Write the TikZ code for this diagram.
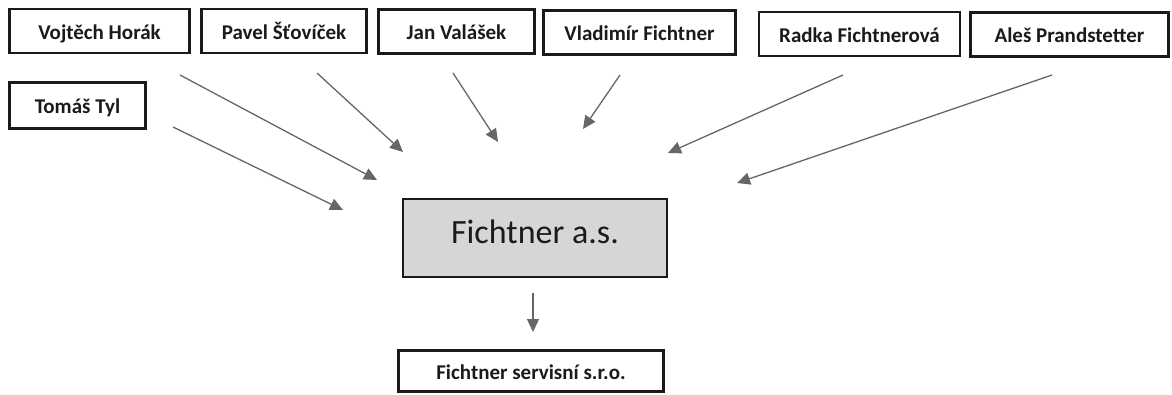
\documentclass[tikz,border=0pt]{standalone}
\usepackage{fontspec}
\setmainfont{Carlito}
\usetikzlibrary{arrows.meta}
\definecolor{arrowgray}{HTML}{666666}
\definecolor{boxgray}{HTML}{D6D6D6}
\definecolor{inkblack}{HTML}{1A1A1A}
\tikzset{
  person/.style={draw=inkblack, line width=2.6pt, fill=white, inner sep=0pt,
    minimum height=44pt, text height=16.4pt, text depth=0pt,
    font=\fontsize{21}{24}\selectfont\bfseries, text=inkblack},
  mainbox/.style={draw=inkblack, line width=2.8pt, fill=boxgray, inner sep=0pt,
    minimum width=264pt, minimum height=78pt, text height=11.8pt, text depth=0pt,
    font=\fontsize{34}{38}\selectfont, text=inkblack},
  link/.style={draw=arrowgray, line width=1.3pt, -{Triangle[length=13pt,width=12pt]}}
}
\begin{document}
\begin{tikzpicture}[x=1pt,y=-1pt]
\useasboundingbox (0,0) rectangle (1172,394);
% person boxes
\node[person, minimum width=180pt] (vh) at (99.5,31) {Vojtěch Horák};
\node[person, minimum width=165pt] (ps) at (284,31) {Pavel Šťovíček};
\node[person, minimum width=156pt] (jv) at (456.5,31.5) {Jan Valášek};
\node[person, minimum width=192pt] (vf) at (639.5,32.5) {Vladimír Fichtner};
\node[person, minimum width=201pt] (rf) at (859.5,34) {Radka Fichtnerová};
\node[person, minimum width=198pt] (ap) at (1069.5,34.5) {Aleš Prandstetter};
\node[person, minimum width=136pt, minimum height=46pt] (tt) at (77.5,105.5) {Tomáš Tyl};
% main company
\node[mainbox] (fa) at (535,238) {Fichtner a.s.};
\node[person, minimum width=265pt, minimum height=41pt] (fs) at (531,371) {Fichtner servisní s.r.o.};
% arrow end points
\coordinate (vhs) at (180,75);   \coordinate (vhe) at (377,180);
\coordinate (pss) at (317,73);   \coordinate (pse) at (403,152);
\coordinate (jvs) at (453,73);   \coordinate (jve) at (498,142);
\coordinate (vfs) at (620,75);   \coordinate (vfe) at (583,129);
\coordinate (rfs) at (843,75);   \coordinate (rfe) at (668,153);
\coordinate (aps) at (1052,75);  \coordinate (ape) at (737,183);
\coordinate (tts) at (173,127);  \coordinate (tte) at (343,210);
\coordinate (fas) at (533,293);  \coordinate (fae) at (533,332);
% arrows
\draw[link] (vhs) -- (vhe);
\draw[link] (pss) -- (pse);
\draw[link] (jvs) -- (jve);
\draw[link] (vfs) -- (vfe);
\draw[link] (rfs) -- (rfe);
\draw[link] (aps) -- (ape);
\draw[link] (tts) -- (tte);
\draw[link] (fas) -- (fae);
\end{tikzpicture}
\end{document}
